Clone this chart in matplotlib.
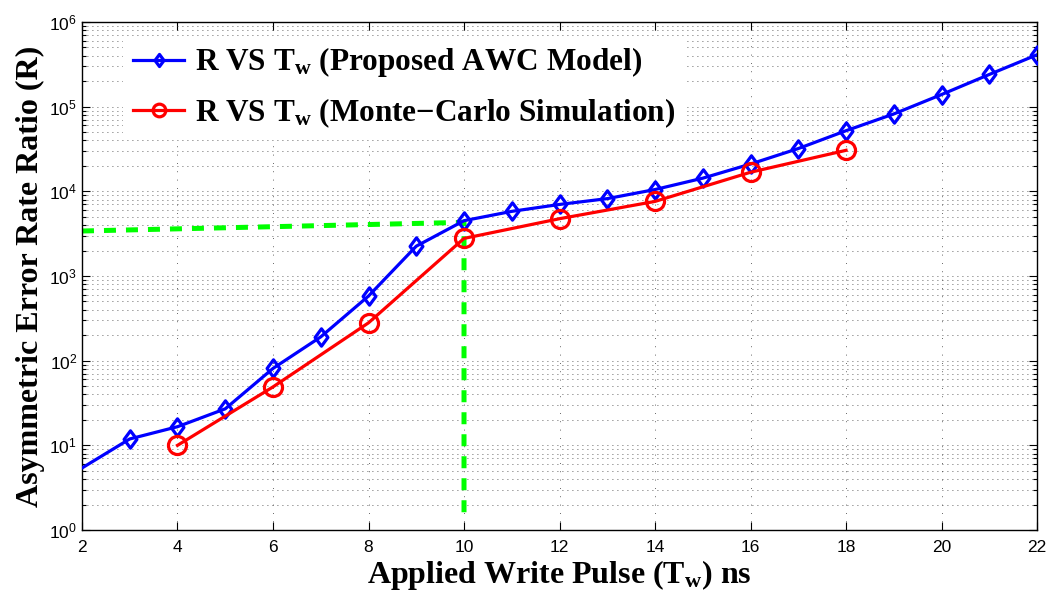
import numpy as np
import matplotlib
matplotlib.use("Agg")
import matplotlib.pyplot as plt
from matplotlib.path import Path
from matplotlib.ticker import LogLocator, FixedLocator

plt.rcParams['font.family'] = ['Liberation Sans', 'DejaVu Sans']
plt.rcParams['mathtext.fontset'] = 'custom'
plt.rcParams['mathtext.rm'] = 'Liberation Sans'
plt.rcParams['mathtext.bf'] = 'Liberation Serif:bold'

# proposed AWC model
tw_model = [2, 3, 4, 5, 6, 7, 8, 9, 10, 11, 12, 13, 14, 15, 16, 17, 18, 19, 20, 21, 22]
r_model = [5.4, 11.9, 16.6, 27, 81, 191, 580, 2250, 4500, 5800, 7000, 8200, 10500,
           14300, 21000, 32000, 52000, 82000, 139000, 240000, 410000]
marker_model = [False] + [True] * 20

# monte-carlo simulation
tw_mc = [4, 6, 8, 10, 12, 14, 16, 18]
r_mc = [10, 49, 280, 2780, 4750, 7600, 16800, 30500]

# operating point guide
guide_x = [2, 10, 10]
guide_y = [3400, 4300, 1.5]

serif = 'Liberation Serif'
diamond = Path([(0, 1), (0.74, 0), (0, -1), (-0.74, 0), (0, 1)],
               [Path.MOVETO, Path.LINETO, Path.LINETO, Path.LINETO, Path.CLOSEPOLY])

fig = plt.figure(figsize=(10.47, 5.94), dpi=100)
ax = fig.add_axes([0.0783, 0.1077, 0.9122, 0.8553])

ax.plot(guide_x, guide_y, color='#00ff00', lw=3.6, linestyle=(0, (2.4, 2.0)), zorder=2)
ax.plot(tw_model, r_model, color='#0000ff', lw=2.3, marker=diamond, markersize=12.5,
        markerfacecolor='none', markeredgewidth=2.3, markevery=marker_model,
        label=r'R VS $\mathbf{T_w}$ (Proposed AWC Model)', zorder=3)
ax.plot(tw_mc, r_mc, color='#ff0000', lw=2.3, marker='o', markersize=13,
        markerfacecolor='none', markeredgewidth=2.3,
        label=r'R VS $\mathbf{T_w}$ (Monte$-$Carlo Simulation)', zorder=3)

ax.set_yscale('log')
ax.set_xlim(2, 22)
ax.set_ylim(1, 1e6)
ax.xaxis.set_major_locator(FixedLocator(np.arange(2, 23, 2)))
ax.yaxis.set_major_locator(LogLocator(base=10, numticks=10))
ax.yaxis.set_minor_locator(LogLocator(base=10, subs=np.arange(2, 10), numticks=10))

ax.tick_params(which='both', direction='in', top=True, right=True, labelsize=12.5,
               width=0.8)
ax.tick_params(which='major', length=6)
ax.tick_params(which='minor', length=3)
ax.tick_params(axis='x', pad=7)

dots = (0, (1.0, 5.0))
ax.grid(True, which='major', axis='y', color='#333333', lw=0.6, linestyle=dots)
ax.grid(True, which='minor', axis='y', color='#333333', lw=0.6, linestyle=dots)
ax.grid(True, which='major', axis='x', color='#333333', lw=0.6, linestyle=(0, (1.0, 9.0)))
ax.set_axisbelow(True)
for sp in ax.spines.values():
    sp.set_linewidth(1.0)

ax.set_xlabel(r'Applied Write Pulse ($\mathbf{T_w}$) ns', family=serif,
              fontweight='bold', fontsize=23, labelpad=2)
ax.set_ylabel('Asymmetric Error Rate Ratio (R)', family=serif,
              fontweight='bold', fontsize=23, labelpad=3)

leg = ax.legend(loc='upper left', bbox_to_anchor=(0.027, 1.003), frameon=True,
                prop={'family': serif, 'weight': 'bold', 'size': 22.5},
                handlelength=1.65, handletextpad=0.35, labelspacing=0.55,
                borderpad=0.3, markerscale=0.7, fancybox=False)
leg.get_frame().set_edgecolor('none')
leg.get_frame().set_facecolor('white')
leg.get_frame().set_alpha(1)

fig.savefig('out.png', dpi=100)
